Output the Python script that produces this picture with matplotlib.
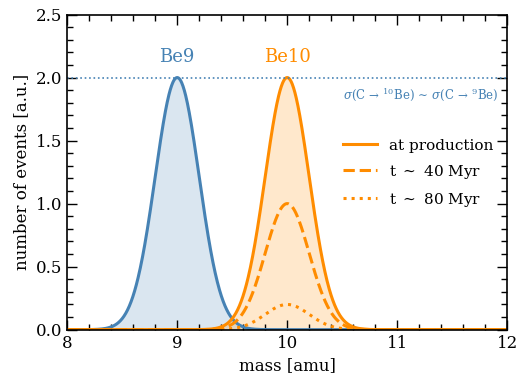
import numpy as np
import matplotlib
matplotlib.use("Agg")
import matplotlib.pyplot as plt
from matplotlib.ticker import MultipleLocator

plt.rcParams['font.family'] = ['DejaVu Serif']
plt.rcParams['mathtext.fontset'] = 'dejavuserif'

# Gaussian peak parameters
be9_center = 9.0
be9_amp = 2.0
be10_center = 10.0
be10_amps = [2.0, 1.0, 0.2]
be10_labels = ['at production', r't $\sim$ 40 Myr', r't $\sim$ 80 Myr']
be10_styles = ['-', '--', ':']
peak_sigma = 0.2
ref_level = 2.0
xticks = [8, 9, 10, 11, 12]
yticks = [0.0, 0.5, 1.0, 1.5, 2.0, 2.5]

blue = '#4682b4'
orange = '#ff8c00'

fig = plt.figure(figsize=(5.17, 3.82), dpi=100)
ax = fig.add_axes([0.130, 0.137, 0.851, 0.825])

x = np.linspace(8, 12, 1000)
def gauss(x, a, c, s):
    return a * np.exp(-0.5 * ((x - c) / s) ** 2)

y9 = gauss(x, be9_amp, be9_center, peak_sigma)
ax.fill_between(x, 0, y9, color=blue, alpha=0.2, lw=0)
ax.plot(x, y9, color=blue, lw=2.2)

for i, (a, lab, ls) in enumerate(zip(be10_amps, be10_labels, be10_styles)):
    y = gauss(x, a, be10_center, peak_sigma)
    if i == 0:
        ax.fill_between(x, 0, y, color=orange, alpha=0.2, lw=0)
    ax.plot(x, y, color=orange, lw=2.2, ls=ls, label=lab)

ax.axhline(ref_level, color=blue, ls=':', lw=1.2)
ax.text(9.0, 2.09, 'Be9', color=blue, fontsize=13, ha='center', va='bottom')
ax.text(10.0, 2.09, 'Be10', color=orange, fontsize=13, ha='center', va='bottom')
ax.text(11.92, 1.83,
        r'$\sigma(\mathrm{C}\,\rightarrow\,{}^{10}\mathrm{Be})\,\sim\,\sigma(\mathrm{C}\,\rightarrow\,{}^{9}\mathrm{Be})$',
        color=blue, fontsize=8.5, ha='right', va='baseline')

ax.set_xlim(8, 12)
ax.set_ylim(0, 2.5)
ax.set_xticks(xticks)
ax.set_xticklabels([str(v) for v in xticks])
ax.set_yticks(yticks)
ax.set_yticklabels([f'{v:.1f}' for v in yticks])
ax.xaxis.set_minor_locator(MultipleLocator(0.2))
ax.yaxis.set_minor_locator(MultipleLocator(0.1))
ax.tick_params(which='both', direction='in', top=True, right=True, labelsize=12)
ax.tick_params(which='major', length=7, width=1)
ax.tick_params(which='minor', length=4, width=1)
for s in ax.spines.values():
    s.set_linewidth(1.2)
ax.set_xlabel('mass [amu]', fontsize=12)
ax.set_ylabel('number of events [a.u.]', fontsize=12)

ax.legend(loc='center right', bbox_to_anchor=(1.0, 0.495), frameon=False, fontsize=11,
          handlelength=2.2, labelspacing=0.65)

fig.savefig('out.png', dpi=100)
